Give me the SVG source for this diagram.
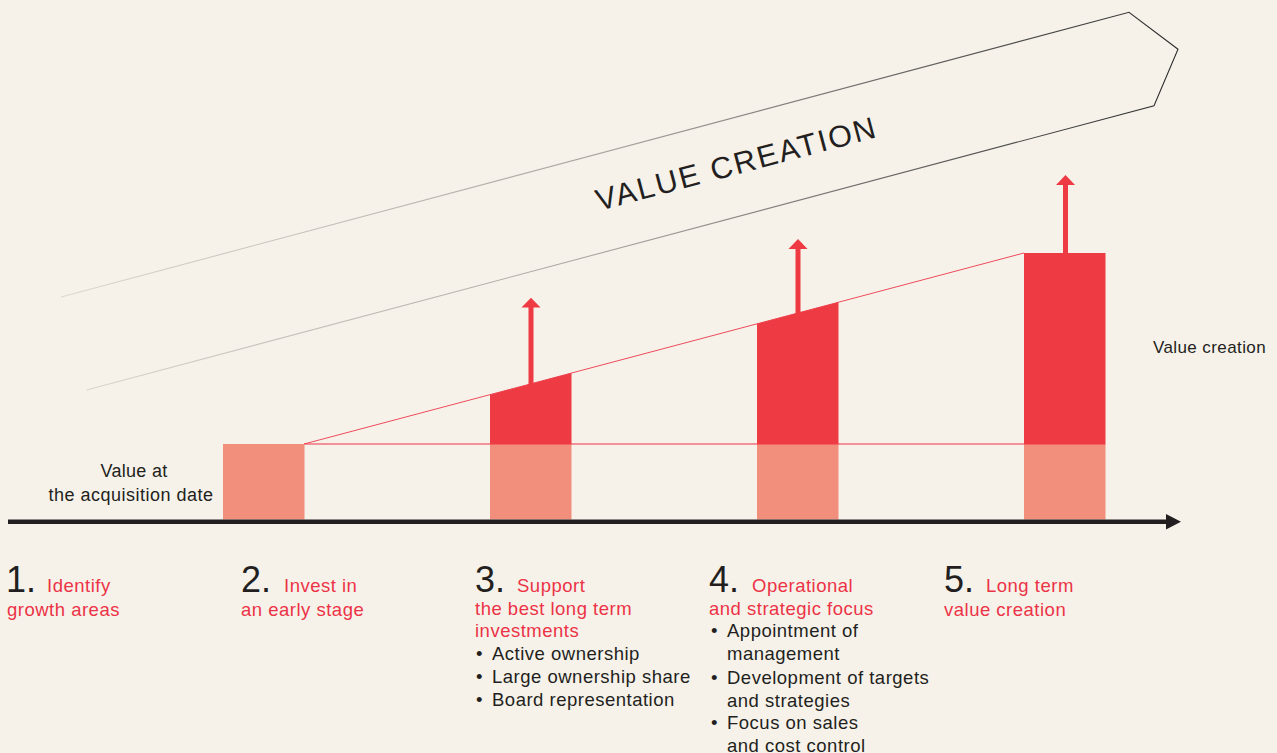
<svg xmlns="http://www.w3.org/2000/svg" width="1277" height="753" viewBox="0 0 1277 753">
  <defs>
    <linearGradient id="bandGrad" gradientUnits="userSpaceOnUse" x1="60" y1="0" x2="1180" y2="0">
      <stop offset="0" stop-color="#dcd7cf"/>
      <stop offset="0.5" stop-color="#a7a39e"/>
      <stop offset="1" stop-color="#2a2a2a"/>
    </linearGradient>
    <style>
      .txt { font-family: "Liberation Sans", Arial, Helvetica, sans-serif; fill: #231f20; }
      .red { fill: #ec3346; }
      .step { font-size: 18.5px; letter-spacing: 0.5px; }
      .num { font-size: 36px; }
      .darkbar { fill: #ee3a43; }
      .lightbar { fill: #f28e7c; }
      .redarrow { fill: #ee3a43; }
    </style>
  </defs>
  <rect x="0" y="0" width="1277" height="753" fill="#f6f2ea"/>

  <g id="value-creation-band">
    <path d="M 61 297 L 1129 12.3 L 1178 49.3 L 1154 105.7 L 86.5 390" fill="none" stroke="url(#bandGrad)" stroke-width="1.1" stroke-linejoin="miter"/>
    <text class="txt" x="0" y="0" font-size="30.5" textLength="288" lengthAdjust="spacing" transform="translate(599,211) rotate(-14.86)">VALUE CREATION</text>
  </g>

  <g id="connectors">
    <line x1="304" y1="444" x2="1024" y2="253" stroke="#ef4a5a" stroke-width="1"/>
    <line x1="304" y1="444" x2="1024" y2="444" stroke="#ec3346" stroke-width="1.2"/>
  </g>

  <g id="bar-2">
    <rect class="lightbar" x="223" y="444" width="81.5" height="75.5"/>
  </g>
  <g id="bar-3">
    <rect class="lightbar" x="490" y="444" width="81.5" height="75.5"/>
    <polygon class="darkbar" points="490,444.5 490,394.66 571.5,373.04 571.5,444.5"/>
  </g>
  <g id="bar-4">
    <rect class="lightbar" x="757" y="444" width="81.5" height="75.5"/>
    <polygon class="darkbar" points="757,444.5 757,323.83 838.5,302.21 838.5,444.5"/>
  </g>
  <g id="bar-5">
    <rect class="lightbar" x="1024" y="444" width="81.5" height="75.5"/>
    <rect class="darkbar" x="1024" y="253" width="81.5" height="191.5"/>
  </g>

  <g id="arrows">
    <rect class="redarrow" x="528.5" y="306" width="5" height="80"/>
    <polygon class="redarrow" points="531,297.7 540.5,307.5 521.5,307.5"/>
    <rect class="redarrow" x="795.5" y="247" width="5" height="68"/>
    <polygon class="redarrow" points="798,239 807.5,249 788.5,249"/>
    <rect class="redarrow" x="1063" y="183" width="5" height="71"/>
    <polygon class="redarrow" points="1065.5,175 1075,185 1056,185"/>
  </g>

  <g id="time-axis">
    <line x1="8" y1="521.7" x2="1168" y2="521.7" stroke="#231f20" stroke-width="4.6"/>
    <polygon points="1166,514 1181,521.7 1166,529.5" fill="#231f20"/>
  </g>

  <g id="label-acquisition">
    <text class="txt" x="134" y="477" font-size="18" letter-spacing="0.3" text-anchor="middle">Value at</text>
    <text class="txt" x="131" y="500.7" font-size="18" letter-spacing="0.5" text-anchor="middle">the acquisition date</text>
  </g>

  <g id="label-value-creation">
    <text class="txt" x="1153" y="352.7" font-size="17" letter-spacing="0.4">Value creation</text>
  </g>

  <g id="step-1">
    <text class="txt num" x="6" y="592">1.</text>
    <text class="txt red step" x="47" y="592">Identify</text>
    <text class="txt red step" x="7" y="615.5">growth areas</text>
  </g>

  <g id="step-2">
    <text class="txt num" x="241" y="592">2.</text>
    <text class="txt red step" x="284" y="592">Invest in</text>
    <text class="txt red step" x="241" y="615.5">an early stage</text>
  </g>

  <g id="step-3">
    <text class="txt num" x="475" y="592">3.</text>
    <text class="txt red step" x="517" y="592">Support</text>
    <text class="txt red step" x="475" y="615">the best long term</text>
    <text class="txt red step" x="475" y="637">investments</text>
    <text class="txt step" x="476" y="660">•</text>
    <text class="txt step" x="492" y="660">Active ownership</text>
    <text class="txt step" x="476" y="683">•</text>
    <text class="txt step" x="492" y="683">Large ownership share</text>
    <text class="txt step" x="476" y="706">•</text>
    <text class="txt step" x="492" y="706">Board representation</text>
  </g>

  <g id="step-4">
    <text class="txt num" x="709" y="592">4.</text>
    <text class="txt red step" x="752" y="592">Operational</text>
    <text class="txt red step" x="709" y="615">and strategic focus</text>
    <text class="txt step" x="711" y="637">•</text>
    <text class="txt step" x="727" y="637">Appointment of</text>
    <text class="txt step" x="727" y="660">management</text>
    <text class="txt step" x="711" y="683.5">•</text>
    <text class="txt step" x="727" y="683.5">Development of targets</text>
    <text class="txt step" x="727" y="706.5">and strategies</text>
    <text class="txt step" x="711" y="728.5">•</text>
    <text class="txt step" x="727" y="728.5">Focus on sales</text>
    <text class="txt step" x="727" y="751.5">and cost control</text>
  </g>

  <g id="step-5">
    <text class="txt num" x="944" y="592">5.</text>
    <text class="txt red step" x="986" y="592">Long term</text>
    <text class="txt red step" x="944" y="615.5">value creation</text>
  </g>
</svg>
